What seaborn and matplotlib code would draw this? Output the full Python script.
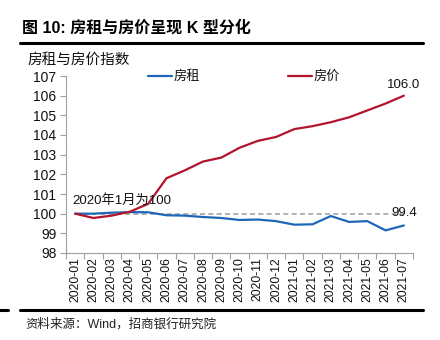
import matplotlib
matplotlib.use("Agg")
import matplotlib.pyplot as plt
import seaborn as sns
import pandas as pd
from matplotlib.lines import Line2D

# Monthly index values, Jan 2020 = 100
months = ["2020-01", "2020-02", "2020-03", "2020-04", "2020-05", "2020-06",
          "2020-07", "2020-08", "2020-09", "2020-10", "2020-11", "2020-12",
          "2021-01", "2021-02", "2021-03", "2021-04", "2021-05", "2021-06",
          "2021-07"]
rent = [100.0, 100.0, 100.05, 100.08, 100.07, 99.92, 99.9, 99.83, 99.78,
        99.68, 99.7, 99.62, 99.44, 99.46, 99.88, 99.58, 99.62, 99.15, 99.4]
price = [100.0, 99.78, 99.9, 100.1, 100.5, 101.8, 102.2, 102.65, 102.85,
         103.35, 103.7, 103.9, 104.3, 104.45, 104.65, 104.9, 105.25, 105.6,
         106.0]
series_names = ["房租", "房价"]
series_colors = ["#1F66B8", "#B3142D"]
base_label = "2020年1月为100"
title_text = "图 10: 房租与房价呈现 K 型分化"
subtitle_text = "房租与房价指数"
source_text = "资料来源：Wind，招商银行研究院"

sns.set_theme(style="white")
plt.rcParams["font.family"] = ["Liberation Sans", "Noto Sans CJK SC", "DejaVu Sans"]
cjk = ["Noto Sans CJK SC", "DejaVu Sans"]
mixed = ["Liberation Sans", "Noto Sans CJK SC", "DejaVu Sans"]

df = pd.DataFrame({
    "x": list(range(len(months))) * 2,
    "value": rent + price,
    "series": [series_names[0]] * len(months) + [series_names[1]] * len(months),
})

fig = plt.figure(figsize=(4.4, 3.4), dpi=100)
ax = fig.add_axes([66 / 440, 1 - 253 / 340, (413 - 66) / 440, (253 - 76) / 340])

# Reference line at the base value
ax.plot([0, len(months) - 1], [100, 100], color="#A6A6A6", lw=1.2,
        ls=(0, (3, 2)), zorder=1)

sns.lineplot(data=df, x="x", y="value", hue="series", hue_order=series_names,
             palette=series_colors, linewidth=1.6, legend=False, ax=ax, zorder=3)

ax.set_xlim(-0.5, len(months) - 0.5)
ax.set_ylim(98, 107)
ax.set_yticks(range(98, 108))
ax.set_yticklabels([str(v) for v in range(98, 108)], fontsize=10, color="#111111")
ax.set_xticks(range(len(months)))
ax.set_xticklabels(months, rotation=90, fontsize=8.8, color="#111111")
ax.set_xticks([i - 0.5 for i in range(len(months) + 1)], minor=True)
ax.tick_params(axis="x", which="major", length=0, pad=3)
ax.tick_params(axis="x", which="minor", length=4, width=0.8, color="#A0A0A0",
               direction="out", bottom=True)
ax.tick_params(axis="y", which="major", length=4, width=0.8, color="#A0A0A0",
               direction="out", left=True, pad=3)
ax.set_xlabel("")
ax.set_ylabel("")
for side in ["top", "right"]:
    ax.spines[side].set_visible(False)
for side in ["left", "bottom"]:
    ax.spines[side].set_color("#A0A0A0")
    ax.spines[side].set_linewidth(0.8)
ax.grid(False)

# Annotations
ax.text(-0.15, 100.35, base_label, fontsize=9.5, family=mixed,
        ha="left", va="bottom", color="#111111")
ax.text(len(months) - 1, rent[-1] + 0.35, f"{rent[-1]:.1f}", fontsize=9.5,
        ha="center", va="bottom", color="#111111")
ax.text(len(months) - 1, price[-1] + 0.25, f"{price[-1]:.1f}", fontsize=9.5,
        ha="center", va="bottom", color="#111111")

# Legend entries placed at the top of the plot
for name, color, x0 in zip(series_names, series_colors, [148, 288]):
    fig.add_artist(Line2D([x0 / 440, (x0 + 24) / 440], [1 - 76 / 340] * 2,
                          color=color, lw=1.6, transform=fig.transFigure))
    fig.text((x0 + 26) / 440, 1 - 76 / 340, name, fontsize=9.5, family=cjk,
             ha="left", va="center", color="#111111")

# Header, rules and source
fig.text(22 / 440, 1 - 28 / 340, title_text, fontsize=11.5, fontweight="bold",
         family=mixed, ha="left", va="center", color="#000000")
fig.add_artist(Line2D([20 / 440, 423 / 440], [1 - 43 / 340] * 2, color="#000000",
                      lw=2.2, transform=fig.transFigure))
fig.text(27 / 440, 1 - 60 / 340, subtitle_text, fontsize=10.5, family=cjk,
         ha="left", va="center", color="#111111")
fig.add_artist(Line2D([20 / 440, 423 / 440], [1 - 309.5 / 340] * 2, color="#000000",
                      lw=2.2, transform=fig.transFigure))
fig.add_artist(Line2D([0, 8 / 440], [1 - 309.5 / 340] * 2, color="#000000",
                      lw=2.2, transform=fig.transFigure))
fig.text(25 / 440, 1 - 324 / 340, source_text, fontsize=9, family=mixed,
         ha="left", va="center", color="#222222")

fig.savefig("out.png", dpi=100, facecolor="white")
